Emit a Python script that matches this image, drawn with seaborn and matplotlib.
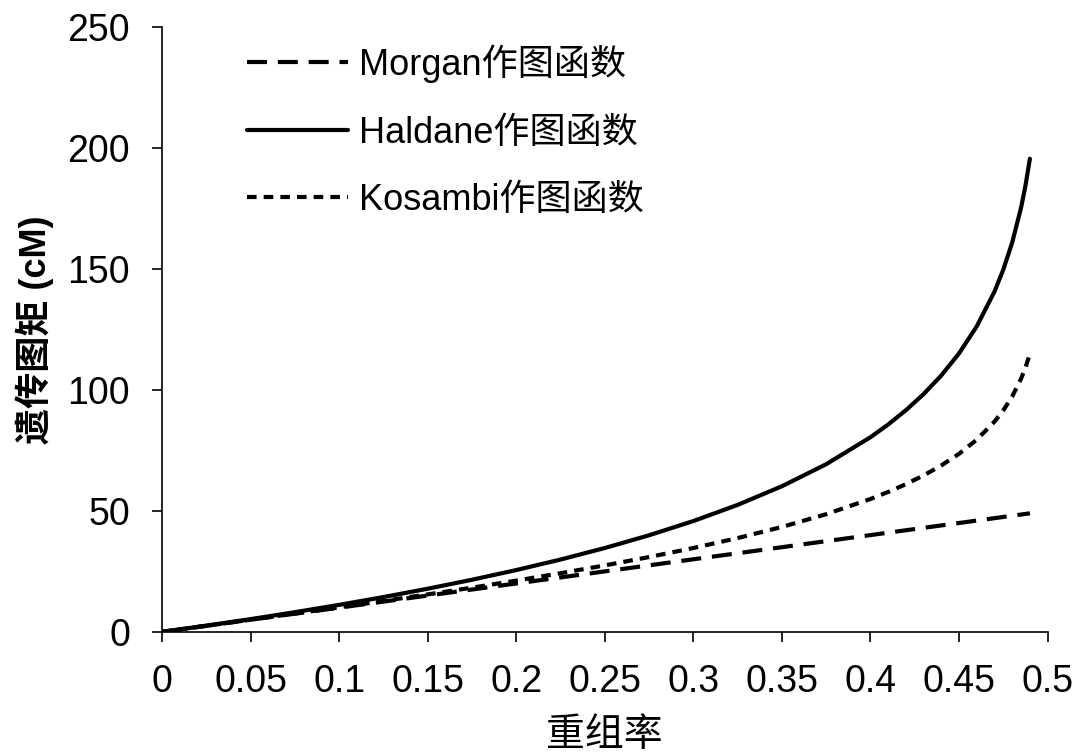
import pandas as pd
import matplotlib
matplotlib.use('Agg')
import matplotlib.pyplot as plt
import seaborn as sns

# recombination fraction and map distance (cM)
r_vals = [0, 0.025, 0.05, 0.075, 0.1, 0.125, 0.15, 0.175, 0.2, 0.225, 0.25, 0.275,
          0.3, 0.325, 0.35, 0.375, 0.4, 0.41, 0.42, 0.43, 0.44, 0.45, 0.46, 0.47,
          0.475, 0.48, 0.485, 0.4875, 0.49]
morgan = [0, 2.5, 5, 7.5, 10, 12.5, 15, 17.5, 20, 22.5, 25, 27.5, 30, 32.5, 35, 37.5,
          40, 41, 42, 43, 44, 45, 46, 47, 47.5, 48, 48.5, 48.75, 49]
haldane = [0, 2.56, 5.27, 8.13, 11.16, 14.38, 17.83, 21.54, 25.54, 29.89, 34.66, 39.93,
           45.81, 52.49, 60.20, 69.31, 80.47, 85.74, 91.63, 98.31, 106.01, 115.13, 126.29,
           140.67, 149.79, 160.94, 175.33, 184.44, 195.60]
kosambi = [0, 2.50, 5.02, 7.56, 10.14, 12.77, 15.48, 18.27, 21.18, 24.24, 27.47, 30.92,
           34.66, 38.77, 43.37, 48.65, 54.93, 57.84, 61.06, 64.67, 68.79, 73.61, 79.45,
           86.90, 91.59, 97.30, 104.62, 109.24, 114.88]
labels = ['Morgan作图函数', 'Haldane作图函数', 'Kosambi作图函数']
x_ticks = [0, 0.05, 0.1, 0.15, 0.2, 0.25, 0.3, 0.35, 0.4, 0.45, 0.5]
x_ticklabels = ['0', '0.05', '0.1', '0.15', '0.2', '0.25', '0.3', '0.35', '0.4', '0.45', '0.5']
y_ticks = [0, 50, 100, 150, 200, 250]

sns.set_style('white')
plt.rcParams['font.family'] = ['Liberation Sans', 'Noto Sans CJK SC', 'DejaVu Sans']
plt.rcParams['text.color'] = 'black'
plt.rcParams['axes.labelcolor'] = 'black'

df = pd.DataFrame({'r': r_vals, 'Morgan': morgan, 'Haldane': haldane, 'Kosambi': kosambi})

fig = plt.figure(figsize=(10.8, 7.54), dpi=100)
ax = fig.add_axes([0.15, 0.162, 0.82, 0.802])

styles = [(0, (4.8, 2.6)), '-', (0, (2.3, 1.7))]
for col, lab, ls in zip(['Morgan', 'Haldane', 'Kosambi'], labels, styles):
    sns.lineplot(data=df, x='r', y=col, ax=ax, color='black', linewidth=3,
                 linestyle=ls, label=lab)

ax.set_xlim(0, 0.5)
ax.set_ylim(0, 250)
ax.set_xticks(x_ticks)
ax.set_xticklabels(x_ticklabels)
ax.set_yticks(y_ticks)
ax.tick_params(axis='both', labelsize=27, direction='out', length=7, width=1.2,
               color='black', labelcolor='black', bottom=True, left=True)
ax.tick_params(axis='x', pad=16)
ax.tick_params(axis='y', pad=16)
sns.despine(ax=ax)
for s in ['left', 'bottom']:
    ax.spines[s].set_color('black')
    ax.spines[s].set_linewidth(1.2)

ax.set_xlabel('重组率', fontsize=28, fontweight='normal',
              family=['Noto Sans CJK SC', 'DejaVu Sans'])
ax.xaxis.set_label_coords(0.5, -0.137)
ax.set_ylabel('遗传图矩 (cM)', fontsize=26, fontweight='bold', labelpad=10,
              family=['Liberation Sans', 'Noto Sans CJK SC'])

ax.legend(loc='upper left', bbox_to_anchor=(0.08, 0.995), frameon=False, fontsize=26,
          handlelength=2.8, handletextpad=0.3, labelspacing=0.9, borderaxespad=0)

fig.savefig('out.png', dpi=100)
